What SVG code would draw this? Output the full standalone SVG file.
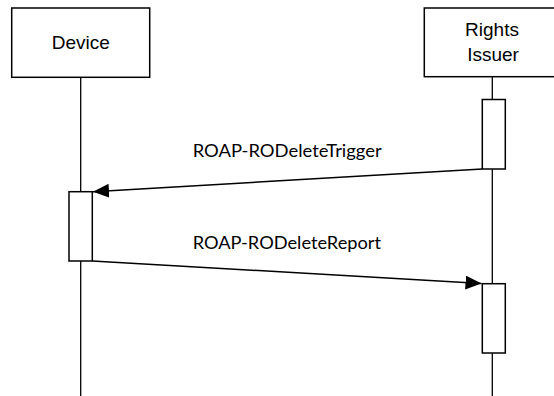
<svg xmlns="http://www.w3.org/2000/svg" width="554" height="396" viewBox="0 0 554 396">
<defs>
<style>
.box{fill:#fff;stroke:#000;stroke-width:1.5}
.life{stroke:#000;stroke-width:1.3;fill:none}
.msg{stroke:#000;stroke-width:1.5;fill:none}
.lbl{font-family:"Liberation Sans",Arial,sans-serif;font-size:19px;fill:#000;text-anchor:middle}
.mlbl{font-family:Lato,"Open Sans",sans-serif;font-size:17px;fill:#000}
</style>
<marker id="ah" viewBox="0 0 16 14" refX="16" refY="7" markerWidth="16" markerHeight="14" markerUnits="userSpaceOnUse" orient="auto">
<path d="M0,0 L16,7 L0,14 Z" fill="#000"/>
</marker>
</defs>
<rect width="554" height="396" fill="#fff"/>
<g id="lifelines">
<line class="life" x1="80.7" y1="77" x2="80.7" y2="396"/>
<line class="life" x1="492.3" y1="77" x2="492.3" y2="396"/>
</g>
<g id="device">
<rect class="box" x="11.7" y="8" width="138" height="69.3"/>
<text class="lbl" x="80.7" y="49">Device</text>
</g>
<g id="rights-issuer">
<rect class="box" x="424.3" y="8" width="138" height="68.7"/>
<text class="lbl" x="492" y="36">Rights</text>
<text class="lbl" x="493" y="61">Issuer</text>
</g>
<g id="ri-activation-1">
<rect class="box" x="482.3" y="99.5" width="23" height="69.5"/>
</g>
<g id="device-activation">
<rect class="box" x="69" y="191.7" width="23.3" height="69.3"/>
</g>
<g id="ri-activation-2">
<rect class="box" x="482.3" y="283.7" width="23" height="69.3"/>
</g>
<g id="connectors">
<line class="msg" x1="482.3" y1="169" x2="93" y2="191.7" marker-end="url(#ah)"/>
<line class="msg" x1="92.3" y1="261" x2="481.5" y2="283.5" marker-end="url(#ah)"/>
<text class="mlbl" x="192.7" y="156.7" textLength="189" lengthAdjust="spacingAndGlyphs">ROAP-RODeleteTrigger</text>
<text class="mlbl" x="192.7" y="249" textLength="188.3" lengthAdjust="spacingAndGlyphs">ROAP-RODeleteReport</text>
</g>
</svg>
